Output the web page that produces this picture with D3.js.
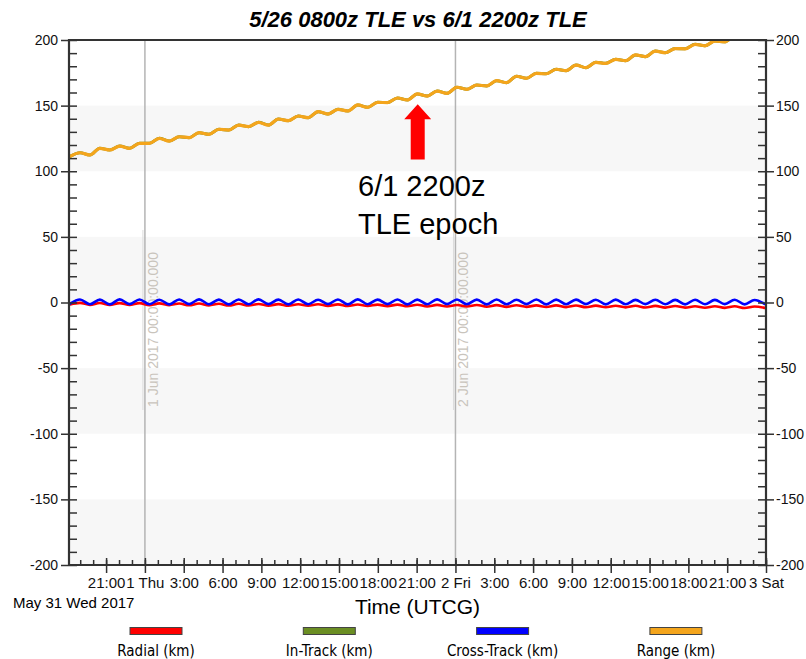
<!DOCTYPE html>
<html>
<head>
<meta charset="utf-8">
<script src="https://cdn.jsdelivr.net/npm/d3@7"></script>
<style>
  body { margin: 0; background: #fff; }
  svg { display: block; font-family: "Liberation Sans", Arial, sans-serif; }
</style>
</head>
<body>
<svg id="chart" width="806" height="659"></svg>
<script>
// Relative position of the 5/26 0800z TLE propagation vs the 6/1 2200z TLE
const chartTitle = "5/26 0800z TLE vs 6/1 2200z TLE";
const xAxisTitle = "Time (UTCG)";
const startDateLabel = "May 31 Wed 2017";
const seriesNames = ["Radial (km)", "In-Track (km)", "Cross-Track (km)", "Range (km)"];
const seriesColors = ["#ff0000", "#6b8e23", "#0000ff", "#f4a51c"];

const timeDomain = ["2017-05-31T18:08:00Z", "2017-06-03T00:00:00Z"];
const sampleStartUTC = "2017-05-31T18:13:00Z";
const sampleStepMinutes = 46;

const radialKm = [
  -1.5, -0.3, -1.8, -0.4, -1.8, -0.5, -1.9, -0.5, -2.0, -0.7,
  -2.0, -0.8, -2.1, -0.8, -2.2, -1.0, -2.3, -1.0, -2.3, -1.1,
  -2.4, -1.2, -2.5, -1.3, -2.5, -1.3, -2.6, -1.4, -2.7, -1.5,
  -2.7, -1.6, -2.8, -1.6, -2.9, -1.7, -3.0, -1.8, -3.0, -1.9,
  -3.1, -1.9, -3.2, -2.0, -3.3, -2.1, -3.3, -2.2, -3.4, -2.2,
  -3.5, -2.3, -3.6, -2.4, -3.6, -2.5, -3.7, -2.5, -3.8, -2.6,
  -3.9, -2.7, -3.9, -2.8, -4.0, -2.8, -4.1, -2.9, -4.2, -3.0,
  -4.1
];
const inTrackKm = [
  111.3, 114.1, 112.4, 117.5, 116.2, 119.2, 117.5, 121.3, 121.3, 125.1,
  123.0, 126.3, 125.6, 129.4, 128.1, 132.0, 131.4, 135.2, 134.0, 137.3,
  135.2, 139.8, 138.5, 142.1, 140.8, 145.4, 143.6, 147.2, 145.9, 150.5,
  148.7, 152.5, 152.3, 155.8, 154.3, 158.9, 157.3, 161.1, 159.4, 164.0,
  162.4, 165.7, 165.0, 169.0, 167.5, 172.4, 170.8, 174.6, 174.3, 177.7,
  176.6, 180.9, 178.9, 183.0, 182.2, 185.3, 184.2, 188.6, 187.3, 191.6,
  190.3, 193.5, 193.3, 196.7, 195.6, 199.2, 198.6, 202.8, 201.6, 205.9,
  204.8
];
const crossTrackKm = [
  -0.9, 2.3, -1.3, 2.2, -1.4, 2.4, -1.2, 2.3, -1.3, 2.1,
  -1.4, 2.3, -1.2, 2.4, -1.3, 2.2, -1.4, 2.3, -1.3, 2.4,
  -1.2, 2.2, -1.4, 2.3, -1.3, 2.1, -1.2, 2.3, -1.4, 2.4,
  -1.3, 2.2, -1.2, 2.3, -1.4, 2.2, -1.3, 2.4, -1.2, 2.3,
  -1.3, 2.2, -1.4, 2.3, -1.3, 2.1, -1.2, 2.3, -1.4, 2.2,
  -1.3, 2.2, -1.2, 2.1, -1.4, 2.2, -1.3, 2.0, -1.2, 2.1,
  -1.3, 2.0, -1.4, 2.1, -1.3, 2.0, -1.2, 2.1, -1.4, 1.9,
  -1.0
];
const rangeKm = [
  111.3, 114.1, 112.4, 117.5, 116.2, 119.2, 117.5, 121.3, 121.3, 125.1,
  123.0, 126.3, 125.6, 129.4, 128.1, 132.0, 131.4, 135.2, 134.0, 137.3,
  135.2, 139.8, 138.5, 142.1, 140.8, 145.4, 143.6, 147.2, 145.9, 150.5,
  148.7, 152.5, 152.3, 155.8, 154.3, 158.9, 157.3, 161.1, 159.4, 164.0,
  162.4, 165.7, 165.0, 169.0, 167.5, 172.4, 170.8, 174.6, 174.3, 177.7,
  176.6, 180.9, 178.9, 183.0, 182.2, 185.3, 184.2, 188.6, 187.3, 191.6,
  190.3, 193.5, 193.3, 196.7, 195.6, 199.2, 198.6, 202.8, 201.6, 205.9,
  204.8
];

const yMajorTicks = [-200, -150, -100, -50, 0, 50, 100, 150, 200];
const yBandStarts = [-200, -100, 0, 100];
const yBandSize = 50;
const dayMarkers = ["2017-06-01T00:00:00Z", "2017-06-02T00:00:00Z"];
const dayMarkerLabels = ["1 Jun 2017 00:00:00.000", "2 Jun 2017 00:00:00.000"];
const epochNoteLines = ["6/1 2200z", "TLE epoch"];
const epochArrowTime = "2017-06-01T21:05:00Z";
const epochArrowKm = [151, 109];

// ---- layout ----
const plot = { left: 69, right: 766, top: 40, bottom: 565 };
const svg = d3.select("#chart");

const x = d3.scaleUtc()
  .domain(timeDomain.map(d => new Date(d)))
  .range([plot.left, plot.right]);
const y = d3.scaleLinear().domain([-200, 200]).range([plot.bottom, plot.top]);

const t0 = new Date(sampleStartUTC).getTime();
const toPoints = vals => vals.map((v, i) => ({ t: new Date(t0 + i * sampleStepMinutes * 60000), v }));

svg.append("defs").append("clipPath").attr("id", "plotClip")
  .append("rect")
  .attr("x", plot.left).attr("y", plot.top)
  .attr("width", plot.right - plot.left).attr("height", plot.bottom - plot.top);

// alternating horizontal bands
svg.append("g").selectAll("rect").data(yBandStarts).join("rect")
  .attr("x", plot.left)
  .attr("width", plot.right - plot.left)
  .attr("y", d => y(d + yBandSize))
  .attr("height", d => y(d) - y(d + yBandSize))
  .attr("fill", "#f7f7f7");

// day boundary lines with rotated labels
const markers = svg.append("g");
dayMarkers.forEach((d, i) => {
  const mx = x(new Date(d));
  markers.append("line")
    .attr("x1", mx - 2).attr("x2", mx - 2).attr("y1", 230).attr("y2", 410)
    .attr("stroke", "#dcdcdc").attr("stroke-width", 1);
  markers.append("line")
    .attr("x1", mx).attr("x2", mx).attr("y1", plot.top).attr("y2", plot.bottom)
    .attr("stroke", "#b4b4b4").attr("stroke-width", 1.5);
  markers.append("text")
    .attr("transform", `translate(${mx + 13},407) rotate(-90)`)
    .attr("font-size", 14)
    .attr("fill", "#c9c4bc")
    .text(dayMarkerLabels[i]);
});

// data lines
const line = d3.line().x(d => x(d.t)).y(d => y(d.v)).curve(d3.curveMonotoneX);
const lines = svg.append("g").attr("clip-path", "url(#plotClip)")
  .attr("fill", "none").attr("stroke-linejoin", "round").attr("stroke-linecap", "round");
const drawOrder = [
  { vals: inTrackKm, color: seriesColors[1], w: 3 },
  { vals: rangeKm, color: seriesColors[3], w: 3.2 },
  { vals: radialKm, color: seriesColors[0], w: 2.6 },
  { vals: crossTrackKm, color: seriesColors[2], w: 2.6 }
];
drawOrder.forEach(s => {
  lines.append("path")
    .attr("d", line(toPoints(s.vals)))
    .attr("stroke", s.color)
    .attr("stroke-width", s.w);
});

// ---- axes ----
const axisColor = "#333";
const minorY = d3.range(-200, 201, 10);
const yFmt = d => String(d);
function styleAxis(g, size) {
  g.select(".domain").remove();
  g.selectAll(".tick line").attr("stroke", axisColor).attr("stroke-width", 1.5);
  g.selectAll(".tick text").attr("fill", "#111").attr("font-size", size || 14)
    .attr("font-family", "Liberation Sans, Arial, sans-serif");
}

// left
svg.append("g").attr("transform", `translate(${plot.left},0)`)
  .call(d3.axisLeft(y).tickValues(yMajorTicks).tickSize(8).tickPadding(3).tickFormat(yFmt))
  .call(styleAxis);
svg.append("g").attr("transform", `translate(${plot.left},0)`)
  .call(d3.axisRight(y).tickValues(minorY).tickSize(8).tickFormat(""))
  .call(styleAxis);
// right
svg.append("g").attr("transform", `translate(${plot.right},0)`)
  .call(d3.axisRight(y).tickValues(yMajorTicks).tickSize(8).tickPadding(2).tickFormat(yFmt))
  .call(styleAxis);
svg.append("g").attr("transform", `translate(${plot.right},0)`)
  .call(d3.axisLeft(y).tickValues(minorY).tickSize(8).tickFormat(""))
  .call(styleAxis);

// bottom time axis
const weekday = d3.utcFormat("%a");
const fmtTime = d => (d.getUTCHours() === 0)
  ? `${d.getUTCDate()} ${weekday(d)}`
  : `${d.getUTCHours()}:00`;
const majorX = x.ticks(d3.utcHour.every(3));
const minorX = x.ticks(d3.utcHour.every(1));
svg.append("g").attr("transform", `translate(0,${plot.bottom})`)
  .call(d3.axisBottom(x).tickValues(majorX).tickSize(8).tickPadding(4).tickFormat(fmtTime))
  .call(g => styleAxis(g, 15));
svg.append("g").attr("transform", `translate(0,${plot.bottom})`)
  .call(d3.axisTop(x).tickValues(minorX).tickSize(5).tickFormat(""))
  .call(styleAxis);
svg.append("g").attr("transform", `translate(0,${plot.bottom})`)
  .call(d3.axisTop(x).tickValues(majorX).tickSize(7).tickFormat(""))
  .call(styleAxis);

// frame
const frame = svg.append("g").attr("stroke", axisColor).attr("stroke-width", 2.2).attr("fill", "none");
frame.append("path").attr("d",
  `M${plot.left},${plot.top}H${plot.right}V${plot.bottom}H${plot.left}Z`);

// ---- text ----
svg.append("text")
  .attr("x", 418).attr("y", 27)
  .attr("text-anchor", "middle")
  .attr("font-size", 22).attr("font-weight", "bold").attr("font-style", "italic")
  .text(chartTitle);

svg.append("text")
  .attr("x", 13).attr("y", 608)
  .attr("font-size", 15)
  .text(startDateLabel);

svg.append("text")
  .attr("x", (plot.left + plot.right) / 2).attr("y", 614)
  .attr("text-anchor", "middle")
  .attr("font-size", 21)
  .text(xAxisTitle);

// epoch annotation
const ax = x(new Date(epochArrowTime));
const tipY = y(epochArrowKm[0]);
const baseY = y(epochArrowKm[1]);
const headY = tipY + 15;
svg.append("path")
  .attr("d", `M${ax},${tipY}L${ax + 13.5},${headY}L${ax + 7},${headY}L${ax + 7},${baseY}` +
             `L${ax - 7},${baseY}L${ax - 7},${headY}L${ax - 13.5},${headY}Z`)
  .attr("fill", "#ff0000");
svg.append("g").selectAll("text").data(epochNoteLines).join("text")
  .attr("x", 358)
  .attr("y", (d, i) => 196 + i * 38)
  .attr("font-size", 29)
  .text(d => d);

// legend
const legend = svg.append("g");
seriesNames.forEach((name, i) => {
  const cx = 156 + i * 173.3;
  legend.append("rect")
    .attr("x", cx - 26).attr("y", 627.5)
    .attr("width", 52).attr("height", 7)
    .attr("fill", seriesColors[i])
    .attr("stroke", "#444").attr("stroke-width", 1);
  legend.append("text")
    .attr("x", cx).attr("y", 656)
    .attr("text-anchor", "middle")
    .attr("font-size", 15)
    .attr("font-family", "'Liberation Sans Narrow', 'DejaVu Sans Condensed', Arial, sans-serif")
    .text(name);
});
</script>
</body>
</html>
